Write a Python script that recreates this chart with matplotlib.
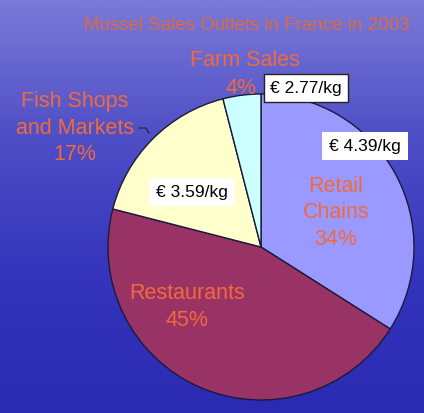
import numpy as np
import matplotlib
matplotlib.use("Agg")
import matplotlib.pyplot as plt
from matplotlib.colors import LinearSegmentedColormap

plt.rcParams['font.family'] = ['Liberation Sans', 'DejaVu Sans']

# data
outlets = ['Retail\nChains', 'Restaurants', 'Fish Shops\nand Markets', 'Farm Sales']
shares = [34, 45, 17, 4]
prices = ['€ 4.39/kg', None, '€ 3.59/kg', '€ 2.77/kg']
colors = ['#9999ff', '#993366', '#ffffcc', '#ccffff']

W, H = 424, 413
fig = plt.figure(figsize=(W / 100, H / 100), dpi=100)
ax = fig.add_axes([0, 0, 1, 1])

# sea-blue gradient background
bg = LinearSegmentedColormap.from_list('sea', ['#2a2ab2', '#3434bc', '#4e4ec6', '#7a7ad8'])
grad = np.linspace(0, 1, 256).reshape(-1, 1)
ax.imshow(grad, cmap=bg, extent=(0, W, 0, H), origin='lower', aspect='auto', zorder=0)

cx, cy, r = 261, H - 247, 153
ax.pie(shares, colors=colors, startangle=90, counterclock=False,
       center=(cx, cy), radius=r, frame=True,
       wedgeprops=dict(edgecolor='#1a1a3a', linewidth=1))

ax.set_xlim(0, W)
ax.set_ylim(0, H)
ax.set_aspect('auto')
ax.axis('off')

orange = '#f2693c'
ax.text(247, H - 25, 'Mussel Sales Outlets in France in 2003', color='#dc6a45',
        fontsize=13.5, ha='center', va='center')

lab = dict(color=orange, fontsize=15.5, ha='center', va='center', linespacing=1.35)
ax.text(336, H - 213, f'{outlets[0]}\n{shares[0]}%', **lab)
ax.text(187, H - 307, f'{outlets[1]}\n{shares[1]}%', **lab)
ax.text(75, H - 128, f'{outlets[2]}\n{shares[2]}%', **lab)
ax.text(245, H - 61, outlets[3], **lab)
ax.text(241, H - 88, f'{shares[3]}%', **lab)

# leader for fish shops label
ax.plot([139, 146, 149], [H - 128, H - 128, H - 133], color='#222222', lw=0.8)

box = dict(color='black', fontsize=12.5, ha='center', va='center')
ax.text(365, H - 146, prices[0], bbox=dict(boxstyle='square,pad=0.4', fc='white', ec='none'), **box)
ax.text(192, H - 192, prices[2], bbox=dict(boxstyle='square,pad=0.4', fc='white', ec='none'), **box)
ax.text(306, H - 88, prices[3], bbox=dict(boxstyle='square,pad=0.35', fc='white', ec='#222222', lw=1), **box)

fig.savefig('out.png', dpi=100)
